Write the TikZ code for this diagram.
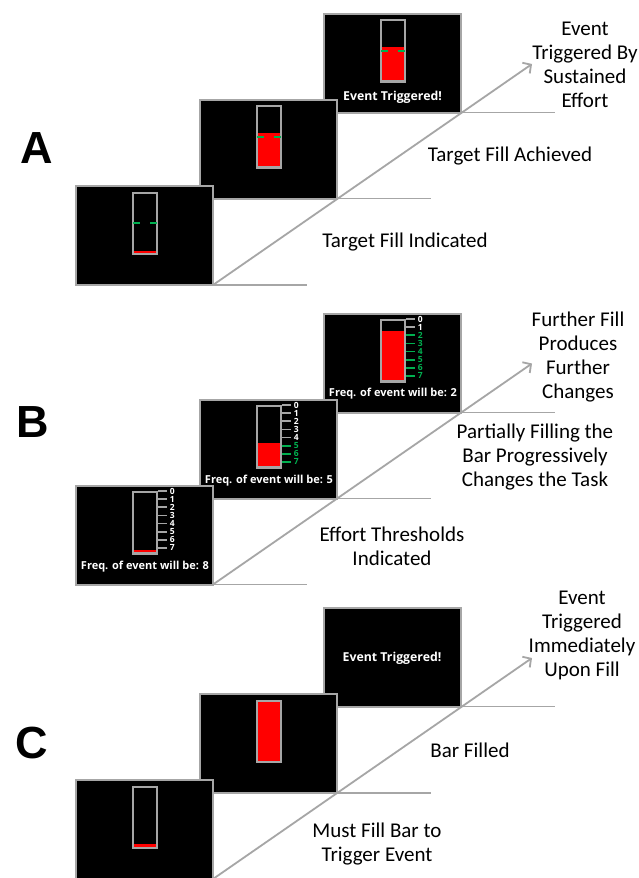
\documentclass[tikz,border=0pt]{standalone}
\usepackage{fontspec}
\setmainfont{Carlito}
\newfontfamily\letterfont{Liberation Sans}
\newfontfamily\screenfont{Open Sans}
\usetikzlibrary{arrows.meta,calc}

\definecolor{framegray}{HTML}{A6A6A6}
\definecolor{fillred}{HTML}{FF0000}
\definecolor{okgreen}{HTML}{00B050}

\tikzset{
  screenbox/.style={draw=framegray, line width=2pt, fill=black,
    minimum width=137pt, minimum height=99pt, inner sep=0pt, outer sep=0pt},
  barholder/.style={minimum width=24.5pt, minimum height=61.3pt,
    inner sep=0pt, outer sep=0pt},
  barline/.style={draw=framegray, line width=2.2pt},
  targetline/.style={draw=okgreen, line width=2pt},
  connector/.style={draw=framegray, line width=1.8pt},
  progress/.style={connector, -{Straight Barb[length=6pt,width=13pt]}},
  caption/.style={font=\fontsize{21}{24}\selectfont, align=center,
    text=black, inner sep=0pt},
  eventtext/.style={font=\screenfont\bfseries\fontsize{12.3}{14}\selectfont,
    text=white, inner sep=0pt},
  freqtext/.style={font=\screenfont\bfseries\fontsize{11}{13}\selectfont,
    text=white, inner sep=0pt},
  scaletext/.style={font=\screenfont\bfseries\fontsize{8.5}{8.5}\selectfont,
    inner sep=0pt},
  panelletter/.style={font=\letterfont\bfseries\fontsize{45}{45}\selectfont,
    inner sep=0pt},
}

% screen #1 with outer top-left corner at (#2,#3)
\newcommand\makescreen[3]{%
  \node[screenbox] (#1) at (#2+69.5,#3+50.5) {};}
% level bar #1 inside a screen whose outer top-left corner is (#2,#3)
\newcommand\makebar[3]{%
  \node[barholder] (#1) at (#2+69.85,#3+38.25) {};}
% red fill of height #2 (pt) from the bottom of bar #1, then its frame
\newcommand\fillbar[2]{%
  \fill[fillred] (#1.south west) rectangle ([yshift=#2pt]#1.south east);
  \draw[barline] (#1.south west) rectangle (#1.north east);}
% green target marks on bar #1
\newcommand\targetmarks[1]{%
  \draw[targetline] ([xshift=0.6pt,yshift=30.6pt]#1.south west) -- ++(7,0);
  \draw[targetline] ([xshift=-0.6pt,yshift=30.6pt]#1.south east) -- ++(-7,0);}
% threshold scale 0..7 beside bar #1, green from index #2 on
\newcommand\scalemarks[2]{%
  \foreach \k in {0,...,7}{%
    \ifnum\k<#2\relax
      \def\tickcol{framegray}\def\labcol{white}%
    \else
      \def\tickcol{okgreen}\def\labcol{okgreen}%
    \fi
    \draw[draw=\tickcol, line width=1.8pt] ($(#1.north east)+(1.1,\k*8.1-1)$)
      -- ++(8.5,0) node[scaletext, anchor=west, xshift=2.2pt,
      text=\labcol] (#1-\k) {\k};
  }}

\begin{document}
\begin{tikzpicture}[x=1pt,y=-1pt]
\clip (0,0) rectangle (639,878);
\fill[white] (0,0) rectangle (639,878);

% ---------------- Panel A ----------------
\node[panelletter] (labA) at (36.5,148) {A};

\makescreen{a3}{323}{12.5}
\makebar{a3bar}{323}{12.5}
\fillbar{a3bar}{34.4}
\targetmarks{a3bar}
\node[eventtext] (a3msg) at (392.5,97) {Event Triggered!};

\makescreen{a2}{199}{98.5}
\makebar{a2bar}{199}{98.5}
\fillbar{a2bar}{34.4}
\targetmarks{a2bar}

\makescreen{a1}{75}{185}
\makebar{a1bar}{75}{185}
\fillbar{a1bar}{3.3}
\targetmarks{a1bar}

\coordinate (a1end) at ($(a1.south east)+(94,0)$);
\coordinate (a2end) at ($(a2.south east)+(94,0)$);
\coordinate (a3end) at ($(a3.south east)+(94,0)$);
\coordinate (atip) at (532,64);
\draw[connector] (a1.south east) -- (a1end);
\draw[connector] (a2.south east) -- (a2end);
\draw[connector] (a3.south east) -- (a3end);
\draw[progress] (a1.south east) -- (atip);

\node[caption] (acap1) at (405,242) {Target Fill Indicated};
\node[caption] (acap2) at (510,156) {Target Fill Achieved};
\node[caption] (acap3) at (585,64.5) {Event\\Triggered By\\Sustained\\Effort};

% ---------------- Panel B ----------------
\node[panelletter] (labB) at (33,422) {B};

\makescreen{b3}{323}{312.5}
\makebar{b3bar}{323}{312.5}
\fillbar{b3bar}{50.2}
\scalemarks{b3bar}{2}
\node[freqtext] (b3msg) at (393,394) {Freq. of event will be: 2};

\makescreen{b2}{199}{398.5}
\makebar{b2bar}{199}{398.5}
\fillbar{b2bar}{24.7}
\scalemarks{b2bar}{5}
\node[freqtext] (b2msg) at (269,481) {Freq. of event will be: 5};

\makescreen{b1}{75}{484.5}
\makebar{b1bar}{75}{484.5}
\fillbar{b1bar}{3}
\scalemarks{b1bar}{8}
\node[freqtext] (b1msg) at (145,567) {Freq. of event will be: 8};

\coordinate (b1end) at ($(b1.south east)+(94,0)$);
\coordinate (b2end) at ($(b2.south east)+(94,0)$);
\coordinate (b3end) at ($(b3.south east)+(94,0)$);
\coordinate (btip) at (532,363.5);
\draw[connector] (b1.south east) -- (b1end);
\draw[connector] (b2.south east) -- (b2end);
\draw[connector] (b3.south east) -- (b3end);
\draw[progress] (b1.south east) -- (btip);

\node[caption] (bcap1) at (392,546.5) {Effort Thresholds\\Indicated};
\node[caption] (bcap2) at (535,457) {Partially Filling the\\Bar Progressively\\Changes the Task};
\node[caption] (bcap3) at (578,357) {Further Fill\\Produces\\Further\\Changes};

% ---------------- Panel C ----------------
\node[panelletter] (labC) at (32,743) {C};

\makescreen{c3}{323}{606.5}
\node[eventtext] (c3msg) at (392,658) {Event Triggered!};

\makescreen{c2}{199}{693}
\makebar{c2bar}{199}{693}
\fillbar{c2bar}{61.3}

\makescreen{c1}{75}{779}
\makebar{c1bar}{75}{779}
\fillbar{c1bar}{3.5}

\coordinate (c1end) at ($(c1.south east)+(94,0)$);
\coordinate (c2end) at ($(c2.south east)+(94,0)$);
\coordinate (c3end) at ($(c3.south east)+(94,0)$);
\coordinate (ctip) at (532,658);
\draw[connector] (c1.south east) -- (c1end);
\draw[connector] (c2.south east) -- (c2end);
\draw[connector] (c3.south east) -- (c3end);
\draw[progress] (c1.south east) -- (ctip);

\node[caption] (ccap1) at (377,844) {Must Fill Bar to\\Trigger Event};
\node[caption] (ccap2) at (470,750) {Bar Filled};
\node[caption] (ccap3) at (582,635.5) {Event\\Triggered\\Immediately\\Upon Fill};
\end{tikzpicture}
\end{document}
